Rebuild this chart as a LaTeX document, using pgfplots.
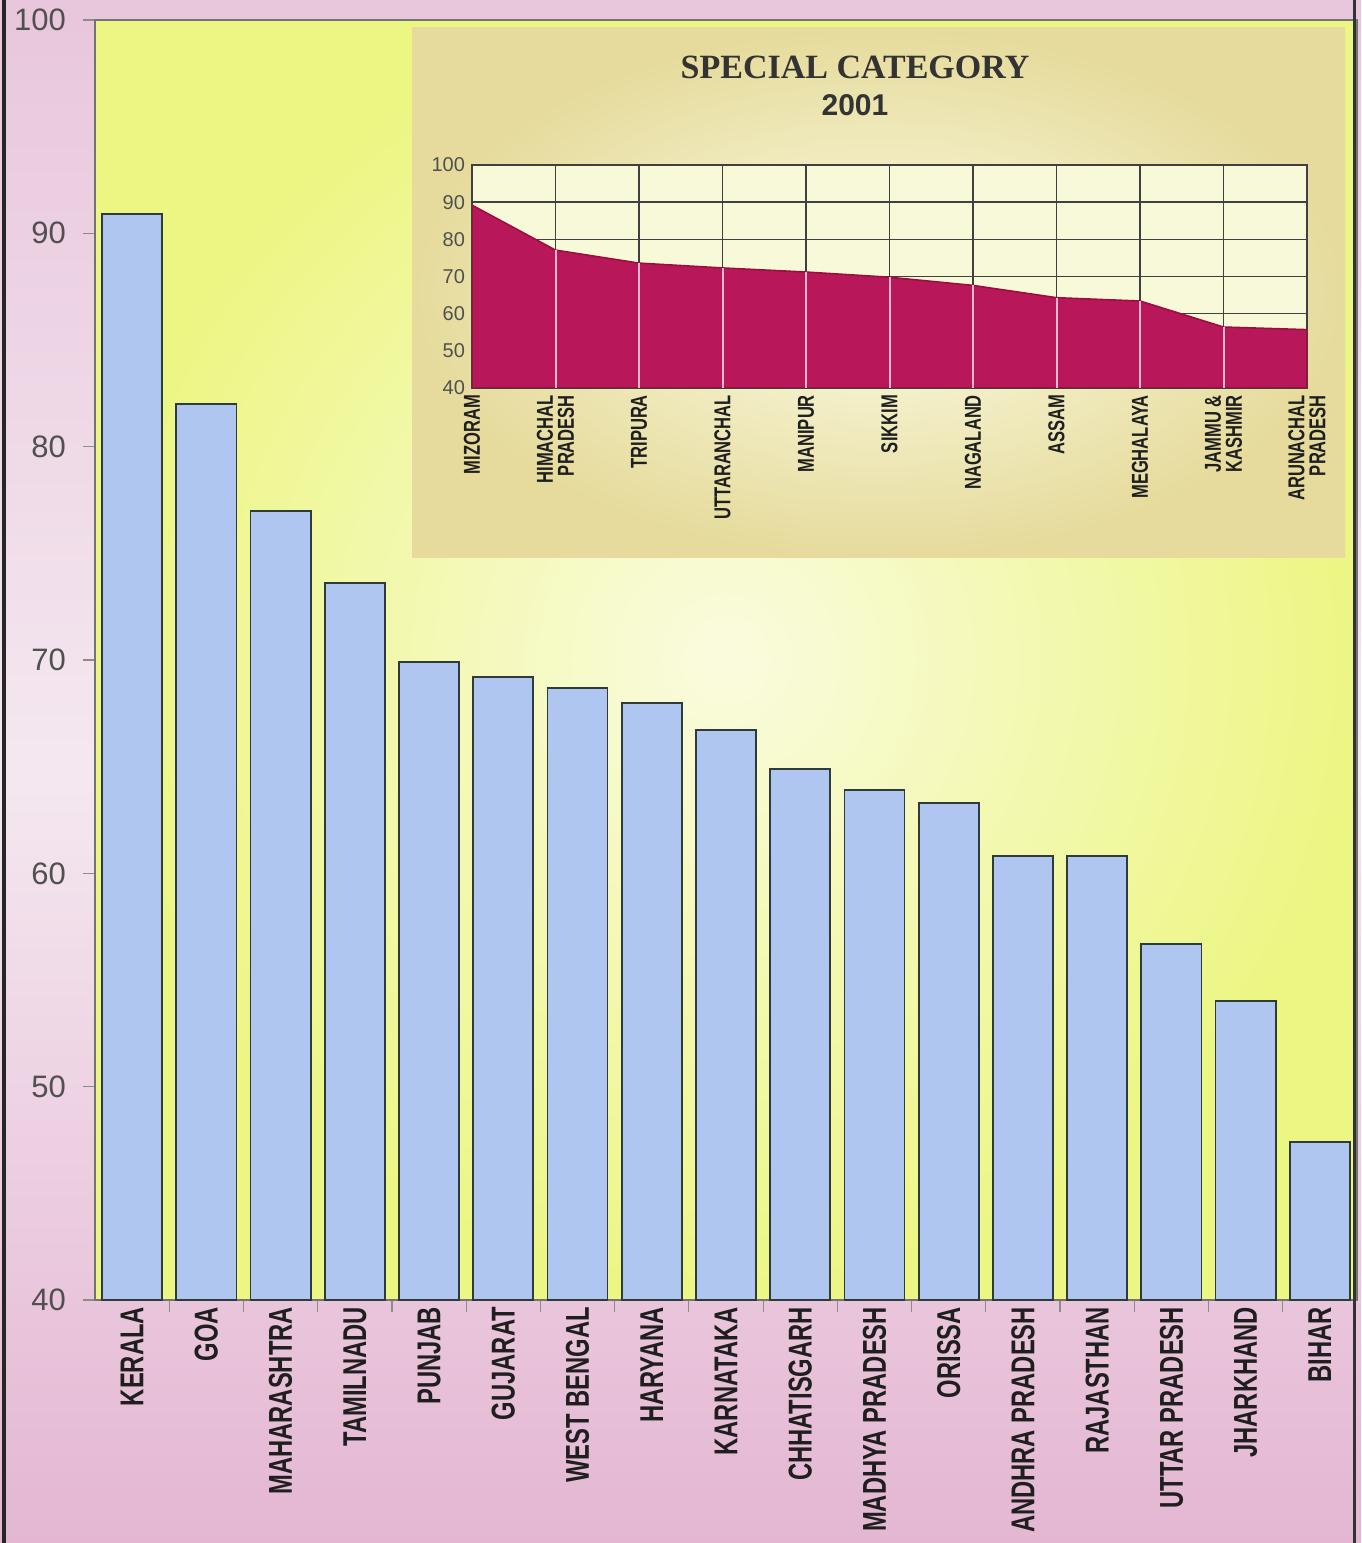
\documentclass[border=0pt]{standalone}
\usepackage{pgfplots}
\pgfplotsset{compat=1.18}
\usepackage{pgfplotstable}
\usepackage{fontspec}
\setmainfont{Liberation Sans}
\newfontfamily\condsans[FakeStretch=0.72]{Liberation Sans}
\newfontfamily\titleserif{Liberation Serif}
\definecolor{pinktop}{HTML}{E8C6DC}
\definecolor{pinkmid}{HTML}{F4E8F0}
\definecolor{pinkbot}{HTML}{E4B6D2}
\definecolor{yelout}{HTML}{ECF683}
\definecolor{yelin}{HTML}{FAFBDF}
\definecolor{barblue}{HTML}{AEC6F0}
\definecolor{bardraw}{HTML}{2F3B3A}
\definecolor{insetout}{HTML}{E6DB9C}
\definecolor{insetin}{HTML}{FBFBE4}
\definecolor{insetplot}{HTML}{F7F9D8}
\definecolor{crim}{HTML}{B8185A}
\definecolor{crimedge}{HTML}{9A0F3C}
\definecolor{combpink}{HTML}{F7B8CF}
\definecolor{ticktext}{HTML}{505050}

\pgfplotstableread{
x y
0 90.9
1 82.0
2 77.0
3 73.6
4 69.9
5 69.2
6 68.7
7 68.0
8 66.7
9 64.9
10 63.9
11 63.3
12 60.8
13 60.8
14 56.7
15 54.0
16 47.4
}\maindata

\pgfplotstableread{
x y
0 89.2
1 77.1
2 73.6
3 72.3
4 71.2
5 69.8
6 67.6
7 64.3
8 63.4
9 56.4
10 55.7
}\insetdata

\begin{document}
\begin{tikzpicture}
\shade[top color=pinktop, bottom color=pinkbot, middle color=pinkmid] (-47.5pt,-121.5pt) rectangle (633pt,650pt);
\path[use as bounding box] (-47.5pt,-121.5pt) rectangle (633pt,650pt);

\begin{axis}[
  at={(0pt,0pt)}, anchor=south west,
  scale only axis, width=631pt, height=640pt,
  xmin=-0.5, xmax=16.5, ymin=40, ymax=100,
  axis background/.style={shade, inner color=yelin, outer color=yelout},
  axis line style={black!55, line width=0.6pt},
  ytick={40,50,...,100},
  xtick={0.5,1.5,...,15.5},
  xticklabels={},
  extra x ticks={0,...,16},
  extra x tick labels={KERALA, GOA, MAHARASHTRA, TAMILNADU, PUNJAB, GUJARAT, WEST BENGAL, HARYANA, KARNATAKA, CHHATISGARH, MADHYA PRADESH, ORISSA, ANDHRA PRADESH, RAJASTHAN, UTTAR PRADESH, JHARKHAND, BIHAR},
  extra x tick style={major tick length=0pt, tick style={draw=none}},
  major tick length=6pt,
  tick align=outside,
  xtick pos=bottom, ytick pos=left,
  tick style={black!45, line width=0.6pt},
  /pgf/number format/assume math mode=true,
  yticklabel style={font=\fontsize{15.5}{17}\selectfont, text=ticktext, xshift=-5pt},
  xticklabel style={rotate=90, anchor=east, font=\condsans\bfseries\fontsize{16.5}{18}\selectfont, text=black!88},
]
\addplot[ybar, bar width=0.81, fill=barblue, draw=bardraw, line width=0.9pt] table[x=x,y=y]{\maindata};
\end{axis}

\draw[black!85, line width=2pt] (-45.5pt,-121.5pt) -- (-45.5pt,650pt);
\draw[black!80, line width=1.6pt] (629.8pt,-121.5pt) -- (629.8pt,650pt);

\shade[inner color=insetin, outer color=insetout] (158.5pt,371pt) rectangle (625pt,636pt);
\node[font=\titleserif\bfseries\fontsize{17}{18}\selectfont, text=black!80] at (380pt,616.5pt) {SPECIAL CATEGORY};
\node[font=\bfseries\fontsize{15}{16}\selectfont, text=black!80] at (380pt,597.5pt) {2001};

\begin{axis}[
  at={(188.5pt,456pt)}, anchor=south west,
  scale only axis, width=417.5pt, height=111.5pt,
  xmin=0, xmax=10, ymin=40, ymax=100,
  axis background/.style={fill=insetplot},
  ytick={40,50,...,100},
  xtick={0,...,10},
  xticklabels={MIZORAM, {HIMACHAL\\PRADESH}, TRIPURA, UTTARANCHAL, MANIPUR, SIKKIM, NAGALAND, ASSAM, MEGHALAYA, {JAMMU \&\\KASHMIR}, {ARUNACHAL\\PRADESH}},
  xmajorgrids, ymajorgrids,
  grid style={black!75, line width=0.8pt},
  axis line style={black!75, line width=0.8pt},
  major tick length=0pt,
  /pgf/number format/assume math mode=true,
  yticklabel style={font=\fontsize{10}{11}\selectfont, text=ticktext},
  xticklabel style={rotate=90, anchor=east, align=right, font=\condsans\bfseries\fontsize{11.5}{10.5}\selectfont, text=black!88},
]
\addplot[fill=crim, draw=crimedge, line width=0.8pt] table[x=x,y=y]{\insetdata} \closedcycle;
\addplot[ycomb, combpink, line width=1pt, no marks, restrict x to domain=0.5:9.5] table[x=x,y=y]{\insetdata};
\end{axis}
\end{tikzpicture}
\end{document}
